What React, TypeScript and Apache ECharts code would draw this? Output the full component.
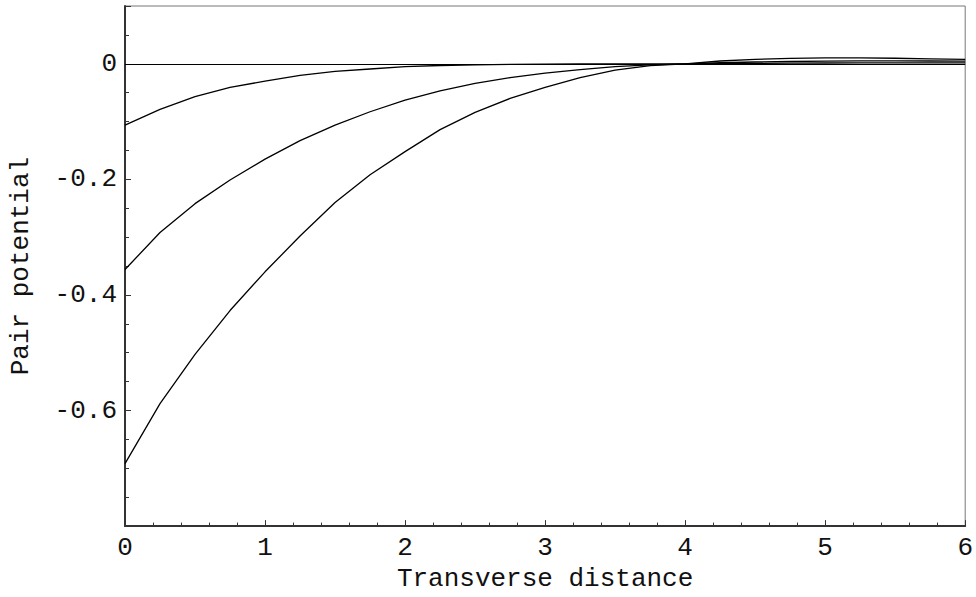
import React, { useEffect, useRef } from "react";
import * as echarts from "echarts";

// Transverse distance samples
const xs = [0, 0.25, 0.5, 0.75, 1, 1.25, 1.5, 1.75, 2, 2.25, 2.5, 2.75, 3, 3.25, 3.5, 3.75, 4, 4.25, 4.5, 4.75, 5, 5.25, 5.5, 5.75, 6];

// Pair potential curves
const curveShallow = [-0.106, -0.079, -0.057, -0.041, -0.03, -0.02, -0.013, -0.009, -0.005, -0.003, -0.002, -0.001, -0.0006, -0.0003, -0.0002, -0.0001, 0, 0.0004, 0.0008, 0.0012, 0.0014, 0.0016, 0.0016, 0.0016, 0.0015];
const curveMiddle = [-0.356, -0.292, -0.242, -0.201, -0.165, -0.133, -0.106, -0.083, -0.063, -0.047, -0.034, -0.024, -0.016, -0.01, -0.005, -0.002, 0, 0.0018, 0.0031, 0.004, 0.0046, 0.005, 0.005, 0.0048, 0.0045];
const curveDeep = [-0.692, -0.588, -0.503, -0.427, -0.36, -0.298, -0.24, -0.192, -0.152, -0.114, -0.084, -0.06, -0.041, -0.024, -0.011, -0.003, 0, 0.0048, 0.0078, 0.0095, 0.0103, 0.0102, 0.0096, 0.0086, 0.0075];

const yTickLabels = ["0", "-0.2", "-0.4", "-0.6"];

const FONT = "'Liberation Mono', 'DejaVu Sans Mono', monospace";
const FS = 26;

export default function App() {
  const ref = useRef<HTMLDivElement>(null);
  useEffect(() => {
    if (!ref.current) return;
    const chart = echarts.init(ref.current, null, { renderer: "svg" });
    const mk = (vals: number[], withZero: boolean) => ({
      type: "line",
      data: xs.map((x, i) => [x, vals[i]]),
      showSymbol: false,
      symbol: "none",
      smooth: false,
      yAxisIndex: 1,
      lineStyle: { color: "#000", width: 1.3 },
      silent: true,
      markLine: withZero
        ? {
            silent: true,
            symbol: "none",
            label: { show: false },
            lineStyle: { color: "#000", width: 1, type: "solid" },
            data: [{ yAxis: 0 }],
          }
        : undefined,
    });
    chart.setOption({
      animation: false,
      backgroundColor: "#fff",
      grid: {
        left: 118,
        right: 10,
        top: 6,
        bottom: 67,
        show: true,
        borderColor: "#777",
        borderWidth: 1,
        backgroundColor: "transparent",
      },
      xAxis: {
        type: "value",
        min: 0,
        max: 6,
        interval: 1,
        name: "Transverse distance",
        nameLocation: "middle",
        nameGap: 37,
        nameTextStyle: { fontFamily: FONT, fontSize: FS, color: "#111" },
        axisLine: { show: true, onZero: false, lineStyle: { color: "#333", width: 2 } },
        axisTick: { show: true, inside: true, length: 6, lineStyle: { color: "#333", width: 1 } },
        minorTick: { show: true, splitNumber: 5, length: 3.5, lineStyle: { color: "#333", width: 1 } },
        splitLine: { show: false },
        axisLabel: { fontFamily: FONT, fontSize: FS, color: "#111", margin: 9 },
      },
      yAxis: [
        {
          type: "value",
          min: -0.8,
          max: 0.1,
          interval: 0.05,
          position: "left",
          axisLine: { show: true, onZero: false, lineStyle: { color: "#333", width: 2 } },
          axisTick: { show: true, inside: true, length: 4, lineStyle: { color: "#333", width: 1 } },
          axisLabel: { show: false },
          splitLine: { show: false },
        },
        {
          type: "value",
          min: -0.8,
          max: 0.1,
          interval: 0.2,
          position: "left",
          name: "Pair potential",
          nameLocation: "middle",
          nameGap: 91,
          nameRotate: 90,
          nameTextStyle: { fontFamily: FONT, fontSize: FS, color: "#111" },
          axisLine: { show: false },
          axisTick: { show: true, inside: true, length: 6, lineStyle: { color: "#333", width: 1 } },
          splitLine: { show: false },
          axisLabel: {
            fontFamily: FONT,
            fontSize: FS,
            color: "#111",
            margin: 8,
            formatter: (v: number) => {
              const s = Math.abs(v) < 1e-9 ? "0" : String(Math.round(v * 10) / 10);
              return yTickLabels.includes(s) ? s : "";
            },
          },
        },
      ],
      series: [mk(curveShallow, true), mk(curveMiddle, false), mk(curveDeep, false)],
    });
    return () => chart.dispose();
  }, []);
  return (
    <div
      ref={ref}
      style={{ position: "fixed", left: 0, top: 0, width: 976, height: 597, background: "#fff" }}
    />
  );
}
